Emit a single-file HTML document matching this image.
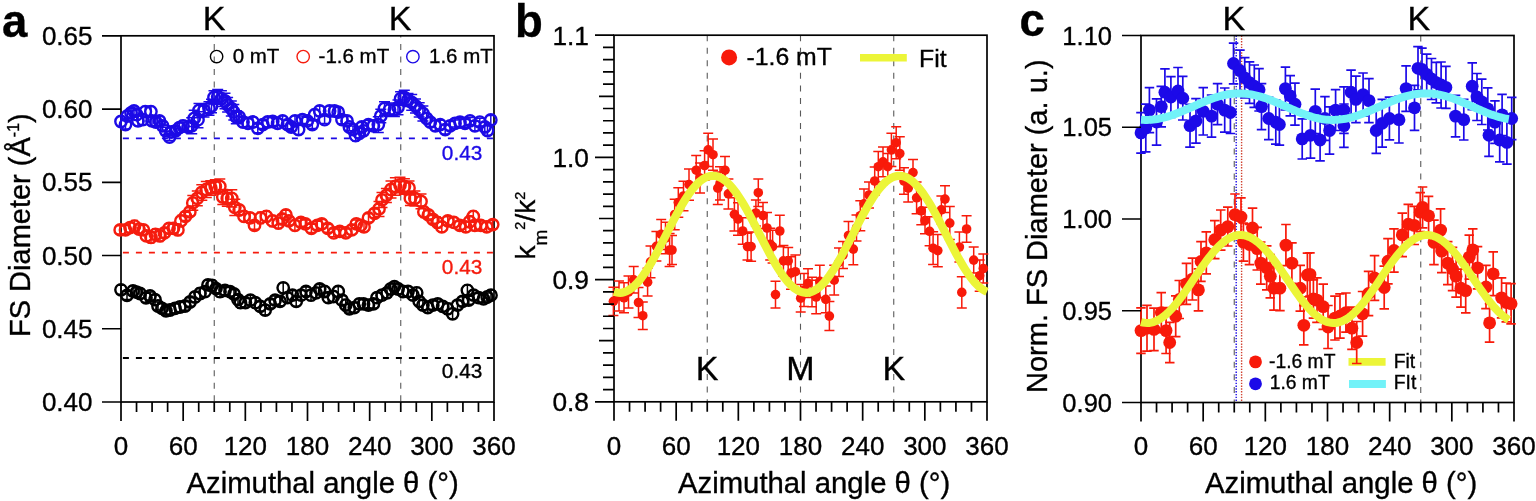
<!DOCTYPE html>
<html><head><meta charset="utf-8"><title>Figure</title>
<style>
html,body{margin:0;padding:0;background:#fff;}
body{width:1536px;height:501px;overflow:hidden;}
svg{display:block;}
text{font-family:"Liberation Sans", Arial, Helvetica, sans-serif;}
</style></head>
<body>
<svg width="1536" height="501" viewBox="0 0 1536 501">
<rect width="1536" height="501" fill="#fff"/>
<line x1="214.25" y1="35.8" x2="214.25" y2="402.0" stroke="#5a5a5a" stroke-width="1.1" stroke-dasharray="6 6.55" stroke-dashoffset="4.4"/>
<line x1="400.75" y1="35.8" x2="400.75" y2="402.0" stroke="#5a5a5a" stroke-width="1.1" stroke-dasharray="6 6.55" stroke-dashoffset="4.4"/>
<line x1="121.00" y1="138.40" x2="494.00" y2="138.40" stroke="#1c0ae6" stroke-width="1.8" stroke-dasharray="6 7" stroke-dashoffset="11.1"/>
<line x1="121.00" y1="252.60" x2="494.00" y2="252.60" stroke="#f51c0e" stroke-width="1.8" stroke-dasharray="6 7" stroke-dashoffset="11.1"/>
<line x1="121.00" y1="358.00" x2="494.00" y2="358.00" stroke="#000" stroke-width="1.8" stroke-dasharray="6 7" stroke-dashoffset="11.1"/>
<rect x="121.0" y="35.8" width="373.0" height="366.2" fill="none" stroke="#000" stroke-width="1.7"/>
<path d="M121.0,285.3V294.3M117.5,285.3h7M117.5,294.3h7M127.0,291.2V299.6M123.5,291.2h7M123.5,299.6h7M133.0,286.0V296.0M129.5,286.0h7M129.5,296.0h7M136.5,288.1V296.4M133.0,288.1h7M133.0,296.4h7M140.0,288.7V298.3M136.5,288.7h7M136.5,298.3h7M146.0,293.3V302.3M142.5,293.3h7M142.5,302.3h7M150.0,291.9V300.1M146.5,291.9h7M146.5,300.1h7M155.0,294.9V304.5M151.5,294.9h7M151.5,304.5h7M158.0,301.9V310.1M154.5,301.9h7M154.5,310.1h7M162.0,303.7V313.1M158.5,303.7h7M158.5,313.1h7M166.0,306.7V314.9M162.5,306.7h7M162.5,314.9h7M170.0,305.9V314.1M166.5,305.9h7M166.5,314.1h7M175.0,303.8V313.0M171.5,303.8h7M171.5,313.0h7M180.0,301.8V312.2M176.5,301.8h7M176.5,312.2h7M185.0,301.8V310.2M181.5,301.8h7M181.5,310.2h7M190.0,297.7V306.3M186.5,297.7h7M186.5,306.3h7M195.0,292.1V301.9M191.5,292.1h7M191.5,301.9h7M200.0,288.1V298.9M196.5,288.1h7M196.5,298.9h7M205.0,286.8V296.6M201.5,286.8h7M201.5,296.6h7M208.0,280.3V289.5M204.5,280.3h7M204.5,289.5h7M212.0,280.0V291.0M208.5,280.0h7M208.5,291.0h7M216.0,284.5V292.7M212.5,284.5h7M212.5,292.7h7M220.0,286.4V297.0M216.5,286.4h7M216.5,297.0h7M225.0,286.0V294.8M221.5,286.0h7M221.5,294.8h7M230.0,287.5V295.9M226.5,287.5h7M226.5,295.9h7M234.0,289.8V298.2M230.5,289.8h7M230.5,298.2h7M238.0,295.2V304.2M234.5,295.2h7M234.5,304.2h7M240.5,297.5V307.9M237.0,297.5h7M237.0,307.9h7M245.4,298.4V307.0M241.9,298.4h7M241.9,307.0h7M250.4,295.3V305.1M246.9,295.3h7M246.9,305.1h7M255.3,297.7V307.7M251.8,297.7h7M251.8,307.7h7M260.3,301.8V311.0M256.8,301.8h7M256.8,311.0h7M265.2,305.3V314.9M261.7,305.3h7M261.7,314.9h7M270.2,299.8V308.0M266.7,299.8h7M266.7,308.0h7M275.1,296.1V304.3M271.6,296.1h7M271.6,304.3h7M280.0,297.1V305.7M276.5,297.1h7M276.5,305.7h7M283.2,282.8V292.8M279.7,282.8h7M279.7,292.8h7M287.5,293.1V302.3M284.0,293.1h7M284.0,302.3h7M292.5,290.7V299.7M289.0,290.7h7M289.0,299.7h7M296.2,296.5V306.3M292.7,296.5h7M292.7,306.3h7M301.1,290.5V299.9M297.6,290.5h7M297.6,299.9h7M306.0,287.1V295.9M302.5,287.1h7M302.5,295.9h7M311.0,290.0V300.4M307.5,290.0h7M307.5,300.4h7M316.0,287.8V297.8M312.5,287.8h7M312.5,297.8h7M319.7,284.6V293.4M316.2,284.6h7M316.2,293.4h7M324.6,286.6V296.4M321.1,286.6h7M321.1,296.4h7M328.3,292.9V302.5M324.8,292.9h7M324.8,302.5h7M333.3,291.2V301.8M329.8,291.2h7M329.8,301.8h7M338.2,286.4V296.6M334.7,286.4h7M334.7,296.6h7M342.0,295.8V304.6M338.5,295.8h7M338.5,304.6h7M345.7,299.6V310.6M342.2,299.6h7M342.2,310.6h7M349.4,304.6V313.0M345.9,304.6h7M345.9,313.0h7M354.3,303.0V312.2M350.8,303.0h7M350.8,312.2h7M359.3,298.8V309.0M355.8,298.8h7M355.8,309.0h7M363.5,299.7V308.1M360.0,299.7h7M360.0,308.1h7M368.4,300.4V309.8M364.9,300.4h7M364.9,309.8h7M373.4,299.8V308.0M369.9,299.8h7M369.9,308.0h7M377.0,292.7V302.7M373.5,292.7h7M373.5,302.7h7M382.0,290.1V300.3M378.5,290.1h7M378.5,300.3h7M387.0,287.9V297.7M383.5,287.9h7M383.5,297.7h7M390.7,283.7V294.3M387.2,283.7h7M387.2,294.3h7M394.4,282.1V291.1M390.9,282.1h7M390.9,291.1h7M398.1,284.0V294.0M394.6,284.0h7M394.6,294.0h7M403.0,286.6V296.4M399.5,286.6h7M399.5,296.4h7M408.0,286.6V296.4M404.5,286.6h7M404.5,296.4h7M413.0,290.5V299.9M409.5,290.5h7M409.5,299.9h7M416.7,287.5V298.1M413.2,287.5h7M413.2,298.1h7M419.2,296.0V306.8M415.7,296.0h7M415.7,306.8h7M422.9,300.4V309.8M419.4,300.4h7M419.4,309.8h7M427.8,302.6V312.6M424.3,302.6h7M424.3,312.6h7M432.8,301.0V309.2M429.3,301.0h7M429.3,309.2h7M437.7,298.8V309.0M434.2,298.8h7M434.2,309.0h7M442.7,301.4V311.4M439.2,301.4h7M439.2,311.4h7M447.6,303.3V314.3M444.1,303.3h7M444.1,314.3h7M452.6,308.6V319.0M449.1,308.6h7M449.1,319.0h7M457.5,300.7V309.5M454.0,300.7h7M454.0,309.5h7M462.5,296.8V306.0M459.0,296.8h7M459.0,306.0h7M467.4,285.3V295.3M463.9,285.3h7M463.9,295.3h7M468.7,296.2V304.2M465.2,296.2h7M465.2,304.2h7M473.6,290.5V299.9M470.1,290.5h7M470.1,299.9h7M478.6,293.4V302.0M475.1,293.4h7M475.1,302.0h7M483.5,294.7V303.1M480.0,294.7h7M480.0,303.1h7M487.2,293.0V301.1M483.8,293.0h7M483.8,301.1h7M491.0,290.0V300.4M487.5,290.0h7M487.5,300.4h7" stroke="#000" stroke-width="1.5" fill="none"/>
<g fill="none" stroke="#000" stroke-width="2.4"><circle cx="121.0" cy="289.8" r="5.7"/><circle cx="127.0" cy="295.4" r="5.7"/><circle cx="133.0" cy="291.0" r="5.7"/><circle cx="136.5" cy="292.2" r="5.7"/><circle cx="140.0" cy="293.5" r="5.7"/><circle cx="146.0" cy="297.8" r="5.7"/><circle cx="150.0" cy="296.0" r="5.7"/><circle cx="155.0" cy="299.7" r="5.7"/><circle cx="158.0" cy="306.0" r="5.7"/><circle cx="162.0" cy="308.4" r="5.7"/><circle cx="166.0" cy="310.8" r="5.7"/><circle cx="170.0" cy="310.0" r="5.7"/><circle cx="175.0" cy="308.4" r="5.7"/><circle cx="180.0" cy="307.0" r="5.7"/><circle cx="185.0" cy="306.0" r="5.7"/><circle cx="190.0" cy="302.0" r="5.7"/><circle cx="195.0" cy="297.0" r="5.7"/><circle cx="200.0" cy="293.5" r="5.7"/><circle cx="205.0" cy="291.7" r="5.7"/><circle cx="208.0" cy="284.9" r="5.7"/><circle cx="212.0" cy="285.5" r="5.7"/><circle cx="216.0" cy="288.6" r="5.7"/><circle cx="220.0" cy="291.7" r="5.7"/><circle cx="225.0" cy="290.4" r="5.7"/><circle cx="230.0" cy="291.7" r="5.7"/><circle cx="234.0" cy="294.0" r="5.7"/><circle cx="238.0" cy="299.7" r="5.7"/><circle cx="240.5" cy="302.7" r="5.7"/><circle cx="245.4" cy="302.7" r="5.7"/><circle cx="250.4" cy="300.2" r="5.7"/><circle cx="255.3" cy="302.7" r="5.7"/><circle cx="260.3" cy="306.4" r="5.7"/><circle cx="265.2" cy="310.1" r="5.7"/><circle cx="270.2" cy="303.9" r="5.7"/><circle cx="275.1" cy="300.2" r="5.7"/><circle cx="280.0" cy="301.4" r="5.7"/><circle cx="283.2" cy="287.8" r="5.7"/><circle cx="287.5" cy="297.7" r="5.7"/><circle cx="292.5" cy="295.2" r="5.7"/><circle cx="296.2" cy="301.4" r="5.7"/><circle cx="301.1" cy="295.2" r="5.7"/><circle cx="306.0" cy="291.5" r="5.7"/><circle cx="311.0" cy="295.2" r="5.7"/><circle cx="316.0" cy="292.8" r="5.7"/><circle cx="319.7" cy="289.0" r="5.7"/><circle cx="324.6" cy="291.5" r="5.7"/><circle cx="328.3" cy="297.7" r="5.7"/><circle cx="333.3" cy="296.5" r="5.7"/><circle cx="338.2" cy="291.5" r="5.7"/><circle cx="342.0" cy="300.2" r="5.7"/><circle cx="345.7" cy="305.1" r="5.7"/><circle cx="349.4" cy="308.8" r="5.7"/><circle cx="354.3" cy="307.6" r="5.7"/><circle cx="359.3" cy="303.9" r="5.7"/><circle cx="363.5" cy="303.9" r="5.7"/><circle cx="368.4" cy="305.1" r="5.7"/><circle cx="373.4" cy="303.9" r="5.7"/><circle cx="377.0" cy="297.7" r="5.7"/><circle cx="382.0" cy="295.2" r="5.7"/><circle cx="387.0" cy="292.8" r="5.7"/><circle cx="390.7" cy="289.0" r="5.7"/><circle cx="394.4" cy="286.6" r="5.7"/><circle cx="398.1" cy="289.0" r="5.7"/><circle cx="403.0" cy="291.5" r="5.7"/><circle cx="408.0" cy="291.5" r="5.7"/><circle cx="413.0" cy="295.2" r="5.7"/><circle cx="416.7" cy="292.8" r="5.7"/><circle cx="419.2" cy="301.4" r="5.7"/><circle cx="422.9" cy="305.1" r="5.7"/><circle cx="427.8" cy="307.6" r="5.7"/><circle cx="432.8" cy="305.1" r="5.7"/><circle cx="437.7" cy="303.9" r="5.7"/><circle cx="442.7" cy="306.4" r="5.7"/><circle cx="447.6" cy="308.8" r="5.7"/><circle cx="452.6" cy="313.8" r="5.7"/><circle cx="457.5" cy="305.1" r="5.7"/><circle cx="462.5" cy="301.4" r="5.7"/><circle cx="467.4" cy="290.3" r="5.7"/><circle cx="468.7" cy="300.2" r="5.7"/><circle cx="473.6" cy="295.2" r="5.7"/><circle cx="478.6" cy="297.7" r="5.7"/><circle cx="483.5" cy="298.9" r="5.7"/><circle cx="487.2" cy="297.0" r="5.7"/><circle cx="491.0" cy="295.2" r="5.7"/></g>
<path d="M120.2,225.8V234.0M116.7,225.8h7M116.7,234.0h7M125.5,225.6V234.2M122.0,225.6h7M122.0,234.2h7M130.0,223.0V232.2M126.5,223.0h7M126.5,232.2h7M134.5,220.6V231.6M131.0,220.6h7M131.0,231.6h7M139.0,225.1V233.1M135.5,225.1h7M135.5,233.1h7M143.4,225.2V234.6M139.9,225.2h7M139.9,234.6h7M146.4,231.0V240.8M142.9,231.0h7M142.9,240.8h7M151.0,231.8V243.0M147.5,231.8h7M147.5,243.0h7M155.4,229.0V239.8M151.9,229.0h7M151.9,239.8h7M160.0,230.4V241.4M156.5,230.4h7M156.5,241.4h7M164.4,228.5V237.3M160.9,228.5h7M160.9,237.3h7M169.0,223.8V233.0M165.5,223.8h7M165.5,233.0h7M173.4,223.9V232.9M169.9,223.9h7M169.9,232.9h7M177.9,224.3V235.5M174.4,224.3h7M174.4,235.5h7M180.9,215.2V226.6M177.4,215.2h7M177.4,226.6h7M185.4,212.3V220.5M181.9,212.3h7M181.9,220.5h7M189.8,207.7V216.1M186.3,207.7h7M186.3,216.1h7M192.8,195.6V210.2M187.3,195.6h11M187.3,210.2h11M197.3,191.1V205.7M191.8,191.1h11M191.8,205.7h11M201.8,184.7V200.3M196.3,184.7h11M196.3,200.3h11M206.3,181.5V197.5M200.8,181.5h11M200.8,197.5h11M210.8,180.7V195.3M205.3,180.7h11M205.3,195.3h11M215.3,179.7V193.3M209.8,179.7h11M209.8,193.3h11M219.8,178.9V194.1M214.3,178.9h11M214.3,194.1h11M222.8,189.5V204.5M217.3,189.5h11M217.3,204.5h11M227.3,190.5V206.3M221.8,190.5h11M221.8,206.3h11M231.8,189.7V207.1M226.3,189.7h11M226.3,207.1h11M234.8,199.2V215.6M229.3,199.2h11M229.3,215.6h11M239.2,205.2V214.8M235.7,205.2h7M235.7,214.8h7M244.0,211.4V221.4M240.5,211.4h7M240.5,221.4h7M250.0,212.7V223.1M246.5,212.7h7M246.5,223.1h7M254.5,221.5V229.3M251.0,221.5h7M251.0,229.3h7M260.5,212.3V223.5M257.0,212.3h7M257.0,223.5h7M266.4,211.0V221.8M262.9,211.0h7M262.9,221.8h7M272.4,215.4V226.4M268.9,215.4h7M268.9,226.4h7M278.4,217.7V228.5M274.9,217.7h7M274.9,228.5h7M282.1,214.4V223.6M278.6,214.4h7M278.6,223.6h7M285.9,210.3V219.5M282.4,210.3h7M282.4,219.5h7M288.9,216.9V224.9M285.4,216.9h7M285.4,224.9h7M294.9,220.3V230.5M291.4,220.3h7M291.4,230.5h7M300.9,218.5V226.3M297.4,218.5h7M297.4,226.3h7M305.4,220.0V227.8M301.9,220.0h7M301.9,227.8h7M311.4,224.2V232.6M307.9,224.2h7M307.9,232.6h7M317.3,221.3V229.5M313.8,221.3h7M313.8,229.5h7M321.8,219.4V228.4M318.3,219.4h7M318.3,228.4h7M327.8,224.5V232.3M324.3,224.5h7M324.3,232.3h7M333.8,229.1V236.7M330.3,229.1h7M330.3,236.7h7M339.8,227.3V235.5M336.3,227.3h7M336.3,235.5h7M345.8,228.9V236.9M342.3,228.9h7M342.3,236.9h7M351.8,225.4V234.4M348.3,225.4h7M348.3,234.4h7M356.3,220.0V227.8M352.8,220.0h7M352.8,227.8h7M360.8,219.9V230.9M357.3,219.9h7M357.3,230.9h7M364.0,221.9V231.9M360.5,221.9h7M360.5,231.9h7M368.5,213.8V222.0M365.0,213.8h7M365.0,222.0h7M374.5,209.1V217.7M371.0,209.1h7M371.0,217.7h7M379.0,201.4V216.4M373.5,201.4h11M373.5,216.4h11M382.0,192.4V207.4M376.5,192.4h11M376.5,207.4h11M386.4,188.4V202.4M380.9,188.4h11M380.9,202.4h11M391.0,181.0V198.0M385.5,181.0h11M385.5,198.0h11M395.4,177.7V195.3M389.9,177.7h11M389.9,195.3h11M400.0,177.3V192.7M394.5,177.3h11M394.5,192.7h11M404.4,178.7V194.3M398.9,178.7h11M398.9,194.3h11M409.0,181.0V195.0M403.5,181.0h11M403.5,195.0h11M410.4,191.4V205.4M404.9,191.4h11M404.9,205.4h11M414.9,190.9V205.9M409.4,190.9h11M409.4,205.9h11M421.0,194.1V208.7M415.5,194.1h11M415.5,208.7h11M423.9,206.4V217.4M420.4,206.4h7M420.4,217.4h7M428.4,210.8V219.0M424.9,210.8h7M424.9,219.0h7M432.9,215.6V223.2M429.4,215.6h7M429.4,223.2h7M437.3,216.7V228.1M433.8,216.7h7M433.8,228.1h7M441.8,222.0V231.8M438.3,222.0h7M438.3,231.8h7M447.8,216.8V225.0M444.3,216.8h7M444.3,225.0h7M453.8,217.5V227.3M450.3,217.5h7M450.3,227.3h7M459.8,221.5V229.3M456.3,221.5h7M456.3,229.3h7M465.8,222.0V231.8M462.3,222.0h7M462.3,231.8h7M469.6,215.9V227.4M466.1,215.9h7M466.1,227.4h7M473.3,210.9V221.9M469.8,210.9h7M469.8,221.9h7M474.8,220.2V230.6M471.3,220.2h7M471.3,230.6h7M480.8,221.1V229.7M477.3,221.1h7M477.3,229.7h7M486.7,222.4V231.4M483.2,222.4h7M483.2,231.4h7M492.7,220.5V228.7M489.2,220.5h7M489.2,228.7h7" stroke="#f51c0e" stroke-width="1.5" fill="none"/>
<g fill="none" stroke="#f51c0e" stroke-width="2.4"><circle cx="120.2" cy="229.9" r="5.7"/><circle cx="125.5" cy="229.9" r="5.7"/><circle cx="130.0" cy="227.6" r="5.7"/><circle cx="134.5" cy="226.1" r="5.7"/><circle cx="139.0" cy="229.1" r="5.7"/><circle cx="143.4" cy="229.9" r="5.7"/><circle cx="146.4" cy="235.9" r="5.7"/><circle cx="151.0" cy="237.4" r="5.7"/><circle cx="155.4" cy="234.4" r="5.7"/><circle cx="160.0" cy="235.9" r="5.7"/><circle cx="164.4" cy="232.9" r="5.7"/><circle cx="169.0" cy="228.4" r="5.7"/><circle cx="173.4" cy="228.4" r="5.7"/><circle cx="177.9" cy="229.9" r="5.7"/><circle cx="180.9" cy="220.9" r="5.7"/><circle cx="185.4" cy="216.4" r="5.7"/><circle cx="189.8" cy="211.9" r="5.7"/><circle cx="192.8" cy="202.9" r="5.7"/><circle cx="197.3" cy="198.4" r="5.7"/><circle cx="201.8" cy="192.5" r="5.7"/><circle cx="206.3" cy="189.5" r="5.7"/><circle cx="210.8" cy="188.0" r="5.7"/><circle cx="215.3" cy="186.5" r="5.7"/><circle cx="219.8" cy="186.5" r="5.7"/><circle cx="222.8" cy="197.0" r="5.7"/><circle cx="227.3" cy="198.4" r="5.7"/><circle cx="231.8" cy="198.4" r="5.7"/><circle cx="234.8" cy="207.4" r="5.7"/><circle cx="239.2" cy="210.0" r="5.7"/><circle cx="244.0" cy="216.4" r="5.7"/><circle cx="250.0" cy="217.9" r="5.7"/><circle cx="254.5" cy="225.4" r="5.7"/><circle cx="260.5" cy="217.9" r="5.7"/><circle cx="266.4" cy="216.4" r="5.7"/><circle cx="272.4" cy="220.9" r="5.7"/><circle cx="278.4" cy="223.1" r="5.7"/><circle cx="282.1" cy="219.0" r="5.7"/><circle cx="285.9" cy="214.9" r="5.7"/><circle cx="288.9" cy="220.9" r="5.7"/><circle cx="294.9" cy="225.4" r="5.7"/><circle cx="300.9" cy="222.4" r="5.7"/><circle cx="305.4" cy="223.9" r="5.7"/><circle cx="311.4" cy="228.4" r="5.7"/><circle cx="317.3" cy="225.4" r="5.7"/><circle cx="321.8" cy="223.9" r="5.7"/><circle cx="327.8" cy="228.4" r="5.7"/><circle cx="333.8" cy="232.9" r="5.7"/><circle cx="339.8" cy="231.4" r="5.7"/><circle cx="345.8" cy="232.9" r="5.7"/><circle cx="351.8" cy="229.9" r="5.7"/><circle cx="356.3" cy="223.9" r="5.7"/><circle cx="360.8" cy="225.4" r="5.7"/><circle cx="364.0" cy="226.9" r="5.7"/><circle cx="368.5" cy="217.9" r="5.7"/><circle cx="374.5" cy="213.4" r="5.7"/><circle cx="379.0" cy="208.9" r="5.7"/><circle cx="382.0" cy="199.9" r="5.7"/><circle cx="386.4" cy="195.4" r="5.7"/><circle cx="391.0" cy="189.5" r="5.7"/><circle cx="395.4" cy="186.5" r="5.7"/><circle cx="400.0" cy="185.0" r="5.7"/><circle cx="404.4" cy="186.5" r="5.7"/><circle cx="409.0" cy="188.0" r="5.7"/><circle cx="410.4" cy="198.4" r="5.7"/><circle cx="414.9" cy="198.4" r="5.7"/><circle cx="421.0" cy="201.4" r="5.7"/><circle cx="423.9" cy="211.9" r="5.7"/><circle cx="428.4" cy="214.9" r="5.7"/><circle cx="432.9" cy="219.4" r="5.7"/><circle cx="437.3" cy="222.4" r="5.7"/><circle cx="441.8" cy="226.9" r="5.7"/><circle cx="447.8" cy="220.9" r="5.7"/><circle cx="453.8" cy="222.4" r="5.7"/><circle cx="459.8" cy="225.4" r="5.7"/><circle cx="465.8" cy="226.9" r="5.7"/><circle cx="469.6" cy="221.7" r="5.7"/><circle cx="473.3" cy="216.4" r="5.7"/><circle cx="474.8" cy="225.4" r="5.7"/><circle cx="480.8" cy="225.4" r="5.7"/><circle cx="486.7" cy="226.9" r="5.7"/><circle cx="492.7" cy="224.6" r="5.7"/></g>
<path d="M121.0,116.6V126.4M117.5,116.6h7M117.5,126.4h7M125.5,120.1V129.1M122.0,120.1h7M122.0,129.1h7M127.4,111.1V120.9M123.9,111.1h7M123.9,120.9h7M131.0,108.7V116.9M127.5,108.7h7M127.5,116.9h7M134.0,107.1V114.9M130.5,107.1h7M130.5,114.9h7M136.7,109.7V119.7M133.2,109.7h7M133.2,119.7h7M138.0,115.6V126.2M134.5,115.6h7M134.5,126.2h7M142.8,114.7V124.7M139.3,114.7h7M139.3,124.7h7M145.3,106.6V116.6M141.8,106.6h7M141.8,116.6h7M150.9,106.6V116.6M147.4,106.6h7M147.4,116.6h7M152.0,116.1V125.7M148.5,116.1h7M148.5,125.7h7M155.8,118.1V125.9M152.3,118.1h7M152.3,125.9h7M159.5,116.5V125.3M156.0,116.5h7M156.0,125.3h7M162.6,121.7V129.9M159.1,121.7h7M159.1,129.9h7M165.7,127.2V134.4M162.2,127.2h7M162.2,134.4h7M169.5,133.4V140.6M166.0,133.4h7M166.0,140.6h7M171.3,128.0V136.0M167.8,128.0h7M167.8,136.0h7M175.6,126.8V134.8M172.1,126.8h7M172.1,134.8h7M179.4,123.0V132.4M175.9,123.0h7M175.9,132.4h7M183.0,120.6V131.0M179.5,120.6h7M179.5,131.0h7M188.0,122.7V131.3M184.5,122.7h7M184.5,131.3h7M191.7,117.8V133.8M186.2,117.8h11M186.2,133.8h11M194.2,110.3V126.5M188.7,110.3h11M188.7,126.5h11M198.0,111.7V127.7M192.5,111.7h11M192.5,127.7h11M199.0,103.4V117.4M193.5,103.4h11M193.5,117.4h11M204.0,103.7V117.1M198.5,103.7h11M198.5,117.1h11M209.0,101.8V115.2M203.5,101.8h11M203.5,115.2h11M211.5,99.3V112.7M206.0,99.3h11M206.0,112.7h11M214.0,90.7V104.1M208.5,90.7h11M208.5,104.1h11M217.7,89.4V104.2M212.2,89.4h11M212.2,104.2h11M221.4,90.7V106.5M215.9,90.7h11M215.9,106.5h11M225.0,93.2V108.8M219.5,93.2h11M219.5,108.8h11M227.6,97.6V112.0M222.1,97.6h11M222.1,112.0h11M231.3,101.0V116.0M225.8,101.0h11M225.8,116.0h11M233.8,104.5V119.9M228.3,104.5h11M228.3,119.9h11M236.3,110.7V123.7M230.8,110.7h11M230.8,123.7h11M239.2,112.3V121.7M235.7,112.3h7M235.7,121.7h7M243.0,116.9V127.1M239.5,116.9h7M239.5,127.1h7M248.0,118.5V128.3M244.5,118.5h7M244.5,128.3h7M252.9,117.1V126.9M249.4,117.1h7M249.4,126.9h7M257.8,123.9V132.7M254.3,123.9h7M254.3,132.7h7M262.8,120.8V128.4M259.3,120.8h7M259.3,128.4h7M267.7,117.1V126.9M264.2,117.1h7M264.2,126.9h7M272.7,117.4V125.6M269.2,117.4h7M269.2,125.6h7M277.6,118.5V128.3M274.1,118.5h7M274.1,128.3h7M282.6,115.7V126.1M279.1,115.7h7M279.1,126.1h7M287.5,120.4V128.8M284.0,120.4h7M284.0,128.8h7M291.2,122.8V131.2M287.7,122.8h7M287.7,131.2h7M295.0,115.7V126.1M291.5,115.7h7M291.5,126.1h7M298.6,124.8V134.4M295.1,124.8h7M295.1,134.4h7M302.4,115.9V123.5M298.9,115.9h7M298.9,123.5h7M307.3,117.2V124.6M303.8,117.2h7M303.8,124.6h7M312.3,120.8V128.4M308.8,120.8h7M308.8,128.4h7M314.7,109.6V119.8M311.2,109.6h7M311.2,119.8h7M319.7,106.0V116.0M316.2,106.0h7M316.2,116.0h7M324.6,115.9V123.5M321.1,115.9h7M321.1,123.5h7M329.6,106.0V116.0M326.1,106.0h7M326.1,116.0h7M334.5,105.7V116.3M331.0,105.7h7M331.0,116.3h7M338.2,107.5V116.9M334.7,107.5h7M334.7,116.9h7M342.0,115.6V123.8M338.5,115.6h7M338.5,123.8h7M347.0,116.4V125.4M343.5,116.4h7M343.5,125.4h7M349.4,123.3V130.7M345.9,123.3h7M345.9,130.7h7M353.0,126.1V133.1M349.5,126.1h7M349.5,133.1h7M355.6,130.5V140.9M352.1,130.5h7M352.1,140.9h7M359.3,128.6V138.0M355.8,128.6h7M355.8,138.0h7M361.8,122.6V131.4M358.3,122.6h7M358.3,131.4h7M363.5,125.6V136.0M360.0,125.6h7M360.0,136.0h7M368.4,120.3V128.9M364.9,120.3h7M364.9,128.9h7M373.4,120.7V130.9M369.9,120.7h7M369.9,130.9h7M378.3,116.8V132.4M372.8,116.8h11M372.8,132.4h11M380.8,109.3V122.7M375.3,109.3h11M375.3,122.7h11M384.5,101.7V115.3M379.0,101.7h11M379.0,115.3h11M389.5,103.0V116.6M384.0,103.0h11M384.0,116.6h11M394.4,103.1V116.5M388.9,103.1h11M388.9,116.5h11M398.0,99.9V114.7M392.5,99.9h11M392.5,114.7h11M400.6,91.8V105.4M395.1,91.8h11M395.1,105.4h11M404.3,90.3V104.5M398.8,90.3h11M398.8,104.5h11M408.0,93.4V106.4M402.5,93.4h11M402.5,106.4h11M411.7,94.4V110.2M406.2,94.4h11M406.2,110.2h11M415.5,99.1V112.9M410.0,99.1h11M410.0,112.9h11M419.2,102.7V116.9M413.7,102.7h11M413.7,116.9h11M422.9,106.1V120.9M417.4,106.1h11M417.4,120.9h11M426.6,113.3V123.5M423.1,113.3h7M423.1,123.5h7M430.3,117.8V126.4M426.8,117.8h7M426.8,126.4h7M435.3,120.6V131.0M431.8,120.6h7M431.8,131.0h7M440.2,120.2V129.0M436.7,120.2h7M436.7,129.0h7M445.2,125.1V134.1M441.7,125.1h7M441.7,134.1h7M450.1,121.4V130.2M446.6,121.4h7M446.6,130.2h7M455.0,119.9V126.9M451.5,119.9h7M451.5,126.9h7M460.0,117.8V126.4M456.5,117.8h7M456.5,126.4h7M465.0,119.6V127.2M461.5,119.6h7M461.5,127.2h7M470.0,117.4V124.4M466.5,117.4h7M466.5,124.4h7M474.9,120.9V130.7M471.4,120.9h7M471.4,130.7h7M479.8,118.3V125.9M476.3,118.3h7M476.3,125.9h7M484.8,122.6V131.4M481.3,122.6h7M481.3,131.4h7M487.5,125.7V135.3M484.0,125.7h7M484.0,135.3h7M490.8,115.5V124.5M487.3,115.5h7M487.3,124.5h7" stroke="#1c0ae6" stroke-width="1.5" fill="none"/>
<g fill="none" stroke="#1c0ae6" stroke-width="2.4"><circle cx="121.0" cy="121.5" r="5.7"/><circle cx="125.5" cy="124.6" r="5.7"/><circle cx="127.4" cy="116.0" r="5.7"/><circle cx="131.0" cy="112.8" r="5.7"/><circle cx="134.0" cy="111.0" r="5.7"/><circle cx="136.7" cy="114.7" r="5.7"/><circle cx="138.0" cy="120.9" r="5.7"/><circle cx="142.8" cy="119.7" r="5.7"/><circle cx="145.3" cy="111.6" r="5.7"/><circle cx="150.9" cy="111.6" r="5.7"/><circle cx="152.0" cy="120.9" r="5.7"/><circle cx="155.8" cy="122.0" r="5.7"/><circle cx="159.5" cy="120.9" r="5.7"/><circle cx="162.6" cy="125.8" r="5.7"/><circle cx="165.7" cy="130.8" r="5.7"/><circle cx="169.5" cy="137.0" r="5.7"/><circle cx="171.3" cy="132.0" r="5.7"/><circle cx="175.6" cy="130.8" r="5.7"/><circle cx="179.4" cy="127.7" r="5.7"/><circle cx="183.0" cy="125.8" r="5.7"/><circle cx="188.0" cy="127.0" r="5.7"/><circle cx="191.7" cy="125.8" r="5.7"/><circle cx="194.2" cy="118.4" r="5.7"/><circle cx="198.0" cy="119.7" r="5.7"/><circle cx="199.0" cy="110.4" r="5.7"/><circle cx="204.0" cy="110.4" r="5.7"/><circle cx="209.0" cy="108.5" r="5.7"/><circle cx="211.5" cy="106.0" r="5.7"/><circle cx="214.0" cy="97.4" r="5.7"/><circle cx="217.7" cy="96.8" r="5.7"/><circle cx="221.4" cy="98.6" r="5.7"/><circle cx="225.0" cy="101.0" r="5.7"/><circle cx="227.6" cy="104.8" r="5.7"/><circle cx="231.3" cy="108.5" r="5.7"/><circle cx="233.8" cy="112.2" r="5.7"/><circle cx="236.3" cy="117.2" r="5.7"/><circle cx="239.2" cy="117.0" r="5.7"/><circle cx="243.0" cy="122.0" r="5.7"/><circle cx="248.0" cy="123.4" r="5.7"/><circle cx="252.9" cy="122.0" r="5.7"/><circle cx="257.8" cy="128.3" r="5.7"/><circle cx="262.8" cy="124.6" r="5.7"/><circle cx="267.7" cy="122.0" r="5.7"/><circle cx="272.7" cy="121.5" r="5.7"/><circle cx="277.6" cy="123.4" r="5.7"/><circle cx="282.6" cy="120.9" r="5.7"/><circle cx="287.5" cy="124.6" r="5.7"/><circle cx="291.2" cy="127.0" r="5.7"/><circle cx="295.0" cy="120.9" r="5.7"/><circle cx="298.6" cy="129.6" r="5.7"/><circle cx="302.4" cy="119.7" r="5.7"/><circle cx="307.3" cy="120.9" r="5.7"/><circle cx="312.3" cy="124.6" r="5.7"/><circle cx="314.7" cy="114.7" r="5.7"/><circle cx="319.7" cy="111.0" r="5.7"/><circle cx="324.6" cy="119.7" r="5.7"/><circle cx="329.6" cy="111.0" r="5.7"/><circle cx="334.5" cy="111.0" r="5.7"/><circle cx="338.2" cy="112.2" r="5.7"/><circle cx="342.0" cy="119.7" r="5.7"/><circle cx="347.0" cy="120.9" r="5.7"/><circle cx="349.4" cy="127.0" r="5.7"/><circle cx="353.0" cy="129.6" r="5.7"/><circle cx="355.6" cy="135.7" r="5.7"/><circle cx="359.3" cy="133.3" r="5.7"/><circle cx="361.8" cy="127.0" r="5.7"/><circle cx="363.5" cy="130.8" r="5.7"/><circle cx="368.4" cy="124.6" r="5.7"/><circle cx="373.4" cy="125.8" r="5.7"/><circle cx="378.3" cy="124.6" r="5.7"/><circle cx="380.8" cy="116.0" r="5.7"/><circle cx="384.5" cy="108.5" r="5.7"/><circle cx="389.5" cy="109.8" r="5.7"/><circle cx="394.4" cy="109.8" r="5.7"/><circle cx="398.0" cy="107.3" r="5.7"/><circle cx="400.6" cy="98.6" r="5.7"/><circle cx="404.3" cy="97.4" r="5.7"/><circle cx="408.0" cy="99.9" r="5.7"/><circle cx="411.7" cy="102.3" r="5.7"/><circle cx="415.5" cy="106.0" r="5.7"/><circle cx="419.2" cy="109.8" r="5.7"/><circle cx="422.9" cy="113.5" r="5.7"/><circle cx="426.6" cy="118.4" r="5.7"/><circle cx="430.3" cy="122.1" r="5.7"/><circle cx="435.3" cy="125.8" r="5.7"/><circle cx="440.2" cy="124.6" r="5.7"/><circle cx="445.2" cy="129.6" r="5.7"/><circle cx="450.1" cy="125.8" r="5.7"/><circle cx="455.0" cy="123.4" r="5.7"/><circle cx="460.0" cy="122.1" r="5.7"/><circle cx="465.0" cy="123.4" r="5.7"/><circle cx="470.0" cy="120.9" r="5.7"/><circle cx="474.9" cy="125.8" r="5.7"/><circle cx="479.8" cy="122.1" r="5.7"/><circle cx="484.8" cy="127.0" r="5.7"/><circle cx="487.5" cy="130.5" r="5.7"/><circle cx="490.8" cy="120.0" r="5.7"/></g>
<path d="M121.00,402.0v19M136.54,402.0v10M152.08,402.0v10M167.62,402.0v10M183.17,402.0v19M198.71,402.0v10M214.25,402.0v10M229.79,402.0v10M245.33,402.0v19M260.88,402.0v10M276.42,402.0v10M291.96,402.0v10M307.50,402.0v19M323.04,402.0v10M338.58,402.0v10M354.12,402.0v10M369.67,402.0v19M385.21,402.0v10M400.75,402.0v10M416.29,402.0v10M431.83,402.0v19M447.38,402.0v10M462.92,402.0v10M478.46,402.0v10M494.00,402.0v19" stroke="#000" stroke-width="1.7" fill="none"/>
<text stroke="#000" stroke-width="0.35" x="121.00" y="454.6" font-size="26" text-anchor="middle">0</text>
<text stroke="#000" stroke-width="0.35" x="183.17" y="454.6" font-size="26" text-anchor="middle">60</text>
<text stroke="#000" stroke-width="0.35" x="245.33" y="454.6" font-size="26" text-anchor="middle">120</text>
<text stroke="#000" stroke-width="0.35" x="307.50" y="454.6" font-size="26" text-anchor="middle">180</text>
<text stroke="#000" stroke-width="0.35" x="369.67" y="454.6" font-size="26" text-anchor="middle">240</text>
<text stroke="#000" stroke-width="0.35" x="431.83" y="454.6" font-size="26" text-anchor="middle">300</text>
<text stroke="#000" stroke-width="0.35" x="494.00" y="454.6" font-size="26" text-anchor="middle">360</text>
<text stroke="#000" stroke-width="0.35" x="92.5" y="411.20" font-size="26" text-anchor="end">0.40</text>
<text stroke="#000" stroke-width="0.35" x="92.5" y="337.96" font-size="26" text-anchor="end">0.45</text>
<text stroke="#000" stroke-width="0.35" x="92.5" y="264.72" font-size="26" text-anchor="end">0.50</text>
<text stroke="#000" stroke-width="0.35" x="92.5" y="191.48" font-size="26" text-anchor="end">0.55</text>
<text stroke="#000" stroke-width="0.35" x="92.5" y="118.24" font-size="26" text-anchor="end">0.60</text>
<text stroke="#000" stroke-width="0.35" x="92.5" y="45.00" font-size="26" text-anchor="end">0.65</text>
<path d="M121.0,402.00h-19M121.0,328.76h-19M121.0,255.52h-19M121.0,182.28h-19M121.0,109.04h-19M121.0,35.80h-19" stroke="#000" stroke-width="1.7"/>
<text stroke="#1c0ae6" stroke-width="0.35" x="482.3" y="160.4" font-size="20.8" text-anchor="end" fill="#1c0ae6">0.43</text>
<text stroke="#f51c0e" stroke-width="0.35" x="482.3" y="274.1" font-size="20.8" text-anchor="end" fill="#f51c0e">0.43</text>
<text stroke="#000" stroke-width="0.35" x="482.3" y="378.4" font-size="20.8" text-anchor="end" fill="#000">0.43</text>
<text stroke="#000" stroke-width="0.35" x="214.2" y="29.8" font-size="34" text-anchor="middle">K</text>
<text stroke="#000" stroke-width="0.35" x="400.1" y="29.8" font-size="34" text-anchor="middle">K</text>
<circle cx="216.6" cy="56.6" r="6.2" fill="none" stroke="#000" stroke-width="1.4"/>
<text stroke="#000" stroke-width="0.35" x="232.7" y="63" font-size="20.5">0 mT</text>
<circle cx="303.2" cy="56.6" r="6.2" fill="none" stroke="#f51c0e" stroke-width="1.4"/>
<text stroke="#000" stroke-width="0.35" x="318.6" y="63" font-size="20.5">-1.6 mT</text>
<circle cx="412.9" cy="56.7" r="6.2" fill="none" stroke="#1c0ae6" stroke-width="1.4"/>
<text stroke="#000" stroke-width="0.35" x="429" y="63" font-size="20.5">1.6 mT</text>
<text stroke="#000" stroke-width="0.35" x="186.5" y="492.8" font-size="29.3">Azimuthal angle θ (°)</text>
<text stroke="#000" stroke-width="0.35" transform="translate(29.5,337) rotate(-90)" font-size="29">FS Diameter (Å<tspan font-size="16" dy="-11">-1</tspan><tspan dy="11">)</tspan></text>
<text stroke="#000" stroke-width="0.35" x="2" y="36.6" font-size="45.5" font-weight="bold">a</text>
<line x1="707.25" y1="35.2" x2="707.25" y2="401.8" stroke="#5a5a5a" stroke-width="1.1" stroke-dasharray="6 6.55" stroke-dashoffset="0"/>
<line x1="800.50" y1="35.2" x2="800.50" y2="401.8" stroke="#5a5a5a" stroke-width="1.1" stroke-dasharray="6 6.55" stroke-dashoffset="0"/>
<line x1="893.75" y1="35.2" x2="893.75" y2="401.8" stroke="#5a5a5a" stroke-width="1.1" stroke-dasharray="6 6.55" stroke-dashoffset="0"/>
<rect x="614.0" y="35.2" width="373.0" height="366.6" fill="none" stroke="#000" stroke-width="1.7"/>
<path d="M613.4,287.2V315.4M608.4,287.2h10M608.4,315.4h10M619.0,281.1V310.9M614.0,281.1h10M614.0,310.9h10M624.0,282.8V312.8M619.0,282.8h10M619.0,312.8h10M628.5,276.1V307.9M623.5,276.1h10M623.5,307.9h10M633.7,266.6V293.0M628.7,266.6h10M628.7,293.0h10M638.5,287.5V317.5M633.5,287.5h10M633.5,317.5h10M642.8,301.9V329.5M637.8,301.9h10M637.8,329.5h10M647.6,268.3V296.1M642.6,268.3h10M642.6,296.1h10M650.5,246.0V277.8M645.5,246.0h10M645.5,277.8h10M656.4,231.5V261.1M651.4,231.5h10M651.4,261.1h10M661.2,219.4V249.4M656.2,219.4h10M656.2,249.4h10M665.5,222.2V253.8M660.5,222.2h10M660.5,253.8h10M669.6,233.6V266.4M664.6,233.6h10M664.6,266.4h10M672.0,235.4V264.6M667.0,235.4h10M667.0,264.6h10M674.7,199.2V229.8M669.7,199.2h10M669.7,229.8h10M678.3,187.7V217.3M673.3,187.7h10M673.3,217.3h10M683.5,181.2V210.8M678.5,181.2h10M678.5,210.8h10M689.0,169.0V200.2M684.0,169.0h10M684.0,200.2h10M696.2,155.6V184.8M691.2,155.6h10M691.2,184.8h10M700.0,163.1V192.9M695.0,163.1h10M695.0,192.9h10M704.6,150.8V180.2M699.6,150.8h10M699.6,180.2h10M708.2,133.3V166.5M703.2,133.3h10M703.2,166.5h10M713.0,139.1V170.3M708.0,139.1h10M708.0,170.3h10M717.8,171.9V204.5M712.8,171.9h10M712.8,204.5h10M720.0,166.8V200.0M715.0,166.8h10M715.0,200.0h10M725.0,156.4V184.0M720.0,156.4h10M720.0,184.0h10M728.4,178.9V208.9M723.4,178.9h10M723.4,208.9h10M734.4,197.7V230.9M729.4,197.7h10M729.4,230.9h10M738.0,202.8V235.2M733.0,202.8h10M733.0,235.2h10M742.7,217.7V244.3M737.7,217.7h10M737.7,244.3h10M747.5,233.3V259.9M742.5,233.3h10M742.5,259.9h10M751.1,232.0V261.2M746.1,232.0h10M746.1,261.2h10M755.9,199.9V226.1M750.9,199.9h10M750.9,226.1h10M758.3,178.9V206.5M753.3,178.9h10M753.3,206.5h10M763.0,202.4V228.6M758.0,202.4h10M758.0,228.6h10M767.0,212.5V243.5M762.0,212.5h10M762.0,243.5h10M770.2,228.3V260.1M765.2,228.3h10M765.2,260.1h10M772.6,230.2V263.0M767.6,230.2h10M767.6,263.0h10M775.5,281.2V308.0M770.5,281.2h10M770.5,308.0h10M779.8,215.3V246.7M774.8,215.3h10M774.8,246.7h10M783.4,245.5V276.3M778.4,245.5h10M778.4,276.3h10M788.2,247.5V274.3M783.2,247.5h10M783.2,274.3h10M791.0,256.7V289.3M786.0,256.7h10M786.0,289.3h10M795.4,255.0V288.4M790.4,255.0h10M790.4,288.4h10M800.7,284.5V311.9M795.7,284.5h10M795.7,311.9h10M804.0,273.4V306.6M799.0,273.4h10M799.0,306.6h10M808.0,268.8V297.6M803.0,268.8h10M803.0,297.6h10M812.0,277.3V306.7M807.0,277.3h10M807.0,306.7h10M816.2,280.2V313.8M811.2,280.2h10M811.2,313.8h10M819.8,265.3V297.5M814.8,265.3h10M814.8,297.5h10M825.8,286.0V312.8M820.8,286.0h10M820.8,312.8h10M829.4,301.6V330.6M824.4,301.6h10M824.4,330.6h10M834.2,265.3V295.1M829.2,265.3h10M829.2,295.1h10M839.0,248.1V276.5M834.0,248.1h10M834.0,276.5h10M843.0,241.4V268.6M838.0,241.4h10M838.0,268.6h10M848.5,221.4V249.6M843.5,221.4h10M843.5,249.6h10M853.3,233.4V264.8M848.3,233.4h10M848.3,264.8h10M856.5,215.1V240.9M851.5,215.1h10M851.5,240.9h10M860.3,200.7V230.7M855.3,200.7h10M855.3,230.7h10M864.0,189.1V218.3M859.0,189.1h10M859.0,218.3h10M869.0,182.1V207.9M864.0,182.1h10M864.0,207.9h10M874.7,166.9V195.1M869.7,166.9h10M869.7,195.1h10M878.3,151.4V182.0M873.3,151.4h10M873.3,182.0h10M883.0,147.1V176.7M878.0,147.1h10M878.0,176.7h10M887.8,153.6V179.8M882.8,153.6h10M882.8,179.8h10M891.4,133.2V166.6M886.4,133.2h10M886.4,166.6h10M896.2,126.7V158.7M891.2,126.7h10M891.2,158.7h10M899.8,136.8V170.2M894.8,136.8h10M894.8,170.2h10M904.0,167.8V194.2M899.0,167.8h10M899.0,194.2h10M908.2,174.3V202.1M903.2,174.3h10M903.2,202.1h10M913.0,159.6V185.6M908.0,159.6h10M908.0,185.6h10M916.6,181.9V213.7M911.6,181.9h10M911.6,213.7h10M921.3,197.0V224.8M916.3,197.0h10M916.3,224.8h10M925.0,207.2V233.8M920.0,207.2h10M920.0,233.8h10M929.6,216.8V245.8M924.6,216.8h10M924.6,245.8h10M933.1,231.8V264.6M928.1,231.8h10M928.1,264.6h10M937.8,234.5V266.7M932.8,234.5h10M932.8,266.7h10M941.4,196.1V223.7M936.4,196.1h10M936.4,223.7h10M945.0,185.7V212.5M940.0,185.7h10M940.0,212.5h10M949.8,206.6V239.6M944.8,206.6h10M944.8,239.6h10M959.4,231.9V262.1M954.4,231.9h10M954.4,262.1h10M961.8,276.8V308.0M956.8,276.8h10M956.8,308.0h10M966.6,215.8V242.2M961.6,215.8h10M961.6,242.2h10M973.7,247.1V273.1M968.7,247.1h10M968.7,273.1h10M979.7,260.1V291.3M974.7,260.1h10M974.7,291.3h10M983.3,254.0V283.0M978.3,254.0h10M978.3,283.0h10" stroke="#f81a0a" stroke-width="1.5" fill="none"/>
<g fill="#f81a0a"><circle cx="613.4" cy="301.3" r="4.8"/><circle cx="619.0" cy="296.0" r="4.8"/><circle cx="624.0" cy="297.8" r="4.8"/><circle cx="628.5" cy="292.0" r="4.8"/><circle cx="633.7" cy="279.8" r="4.8"/><circle cx="638.5" cy="302.5" r="4.8"/><circle cx="642.8" cy="315.7" r="4.8"/><circle cx="647.6" cy="282.2" r="4.8"/><circle cx="650.5" cy="261.9" r="4.8"/><circle cx="656.4" cy="246.3" r="4.8"/><circle cx="661.2" cy="234.4" r="4.8"/><circle cx="665.5" cy="238.0" r="4.8"/><circle cx="669.6" cy="250.0" r="4.8"/><circle cx="672.0" cy="250.0" r="4.8"/><circle cx="674.7" cy="214.5" r="4.8"/><circle cx="678.3" cy="202.5" r="4.8"/><circle cx="683.5" cy="196.0" r="4.8"/><circle cx="689.0" cy="184.6" r="4.8"/><circle cx="696.2" cy="170.2" r="4.8"/><circle cx="700.0" cy="178.0" r="4.8"/><circle cx="704.6" cy="165.5" r="4.8"/><circle cx="708.2" cy="149.9" r="4.8"/><circle cx="713.0" cy="154.7" r="4.8"/><circle cx="717.8" cy="188.2" r="4.8"/><circle cx="720.0" cy="183.4" r="4.8"/><circle cx="725.0" cy="170.2" r="4.8"/><circle cx="728.4" cy="193.9" r="4.8"/><circle cx="734.4" cy="214.3" r="4.8"/><circle cx="738.0" cy="219.0" r="4.8"/><circle cx="742.7" cy="231.0" r="4.8"/><circle cx="747.5" cy="246.6" r="4.8"/><circle cx="751.1" cy="246.6" r="4.8"/><circle cx="755.9" cy="213.0" r="4.8"/><circle cx="758.3" cy="192.7" r="4.8"/><circle cx="763.0" cy="215.5" r="4.8"/><circle cx="767.0" cy="228.0" r="4.8"/><circle cx="770.2" cy="244.2" r="4.8"/><circle cx="772.6" cy="246.6" r="4.8"/><circle cx="775.5" cy="294.6" r="4.8"/><circle cx="779.8" cy="231.0" r="4.8"/><circle cx="783.4" cy="260.9" r="4.8"/><circle cx="788.2" cy="260.9" r="4.8"/><circle cx="791.0" cy="273.0" r="4.8"/><circle cx="795.4" cy="271.7" r="4.8"/><circle cx="800.7" cy="298.2" r="4.8"/><circle cx="804.0" cy="290.0" r="4.8"/><circle cx="808.0" cy="283.2" r="4.8"/><circle cx="812.0" cy="292.0" r="4.8"/><circle cx="816.2" cy="297.0" r="4.8"/><circle cx="819.8" cy="281.4" r="4.8"/><circle cx="825.8" cy="299.4" r="4.8"/><circle cx="829.4" cy="316.1" r="4.8"/><circle cx="834.2" cy="280.2" r="4.8"/><circle cx="839.0" cy="262.3" r="4.8"/><circle cx="843.0" cy="255.0" r="4.8"/><circle cx="848.5" cy="235.5" r="4.8"/><circle cx="853.3" cy="249.1" r="4.8"/><circle cx="856.5" cy="228.0" r="4.8"/><circle cx="860.3" cy="215.7" r="4.8"/><circle cx="864.0" cy="203.7" r="4.8"/><circle cx="869.0" cy="195.0" r="4.8"/><circle cx="874.7" cy="181.0" r="4.8"/><circle cx="878.3" cy="166.7" r="4.8"/><circle cx="883.0" cy="161.9" r="4.8"/><circle cx="887.8" cy="166.7" r="4.8"/><circle cx="891.4" cy="149.9" r="4.8"/><circle cx="896.2" cy="142.7" r="4.8"/><circle cx="899.8" cy="153.5" r="4.8"/><circle cx="904.0" cy="181.0" r="4.8"/><circle cx="908.2" cy="188.2" r="4.8"/><circle cx="913.0" cy="172.6" r="4.8"/><circle cx="916.6" cy="197.8" r="4.8"/><circle cx="921.3" cy="210.9" r="4.8"/><circle cx="925.0" cy="220.5" r="4.8"/><circle cx="929.6" cy="231.3" r="4.8"/><circle cx="933.1" cy="248.2" r="4.8"/><circle cx="937.8" cy="250.6" r="4.8"/><circle cx="941.4" cy="209.9" r="4.8"/><circle cx="945.0" cy="199.1" r="4.8"/><circle cx="949.8" cy="223.1" r="4.8"/><circle cx="959.4" cy="247.0" r="4.8"/><circle cx="961.8" cy="292.4" r="4.8"/><circle cx="966.6" cy="229.0" r="4.8"/><circle cx="973.7" cy="260.1" r="4.8"/><circle cx="979.7" cy="275.7" r="4.8"/><circle cx="983.3" cy="268.5" r="4.8"/></g>
<path d="M614.00,291.73L616.07,292.36L618.14,292.72L620.22,292.79L622.29,292.58L624.36,292.08L626.43,291.30L628.51,290.24L630.58,288.91L632.65,287.32L634.72,285.47L636.79,283.36L638.87,281.02L640.94,278.45L643.01,275.67L645.08,272.68L647.16,269.51L649.23,266.16L651.30,262.66L653.37,259.02L655.44,255.26L657.52,251.40L659.59,247.46L661.66,243.45L663.73,239.40L665.81,235.32L667.88,231.24L669.95,227.17L672.02,223.14L674.09,219.16L676.17,215.25L678.24,211.44L680.31,207.74L682.38,204.17L684.46,200.75L686.53,197.48L688.60,194.40L690.67,191.52L692.74,188.84L694.82,186.38L696.89,184.16L698.96,182.18L701.03,180.45L703.11,178.99L705.18,177.79L707.25,176.87L709.32,176.24L711.39,175.88L713.47,175.81L715.54,176.02L717.61,176.52L719.68,177.30L721.76,178.36L723.83,179.69L725.90,181.28L727.97,183.13L730.04,185.24L732.12,187.58L734.19,190.15L736.26,192.93L738.33,195.92L740.41,199.09L742.48,202.44L744.55,205.94L746.62,209.58L748.69,213.34L750.77,217.20L752.84,221.14L754.91,225.15L756.98,229.20L759.06,233.28L761.13,237.36L763.20,241.43L765.27,245.46L767.34,249.44L769.42,253.35L771.49,257.16L773.56,260.86L775.63,264.43L777.71,267.85L779.78,271.12L781.85,274.20L783.92,277.08L785.99,279.76L788.07,282.22L790.14,284.44L792.21,286.42L794.28,288.15L796.36,289.61L798.43,290.81L800.50,291.73L802.57,292.36L804.64,292.72L806.72,292.79L808.79,292.58L810.86,292.08L812.93,291.30L815.01,290.24L817.08,288.91L819.15,287.32L821.22,285.47L823.29,283.36L825.37,281.02L827.44,278.45L829.51,275.67L831.58,272.68L833.66,269.51L835.73,266.16L837.80,262.66L839.87,259.02L841.94,255.26L844.02,251.40L846.09,247.46L848.16,243.45L850.23,239.40L852.31,235.32L854.38,231.24L856.45,227.17L858.52,223.14L860.59,219.16L862.67,215.25L864.74,211.44L866.81,207.74L868.88,204.17L870.96,200.75L873.03,197.48L875.10,194.40L877.17,191.52L879.24,188.84L881.32,186.38L883.39,184.16L885.46,182.18L887.53,180.45L889.61,178.99L891.68,177.79L893.75,176.87L895.82,176.24L897.89,175.88L899.97,175.81L902.04,176.02L904.11,176.52L906.18,177.30L908.26,178.36L910.33,179.69L912.40,181.28L914.47,183.13L916.54,185.24L918.62,187.58L920.69,190.15L922.76,192.93L924.83,195.92L926.91,199.09L928.98,202.44L931.05,205.94L933.12,209.58L935.19,213.34L937.27,217.20L939.34,221.14L941.41,225.15L943.48,229.20L945.56,233.28L947.63,237.36L949.70,241.43L951.77,245.46L953.84,249.44L955.92,253.35L957.99,257.16L960.06,260.86L962.13,264.43L964.21,267.85L966.28,271.12L968.35,274.20L970.42,277.08L972.49,279.76L974.57,282.22L976.64,284.44L978.71,286.42L980.78,288.15L982.86,289.61L984.93,290.81L987.00,291.73" stroke="#ecf538" stroke-width="8.2" fill="none"/>
<path d="M614.00,401.8v19M629.54,401.8v10M645.08,401.8v10M660.62,401.8v10M676.17,401.8v19M691.71,401.8v10M707.25,401.8v10M722.79,401.8v10M738.33,401.8v19M753.88,401.8v10M769.42,401.8v10M784.96,401.8v10M800.50,401.8v19M816.04,401.8v10M831.58,401.8v10M847.12,401.8v10M862.67,401.8v19M878.21,401.8v10M893.75,401.8v10M909.29,401.8v10M924.83,401.8v19M940.38,401.8v10M955.92,401.8v10M971.46,401.8v10M987.00,401.8v19" stroke="#000" stroke-width="1.7" fill="none"/>
<text stroke="#000" stroke-width="0.35" x="614.00" y="454.6" font-size="26" text-anchor="middle">0</text>
<text stroke="#000" stroke-width="0.35" x="676.17" y="454.6" font-size="26" text-anchor="middle">60</text>
<text stroke="#000" stroke-width="0.35" x="738.33" y="454.6" font-size="26" text-anchor="middle">120</text>
<text stroke="#000" stroke-width="0.35" x="800.50" y="454.6" font-size="26" text-anchor="middle">180</text>
<text stroke="#000" stroke-width="0.35" x="862.67" y="454.6" font-size="26" text-anchor="middle">240</text>
<text stroke="#000" stroke-width="0.35" x="924.83" y="454.6" font-size="26" text-anchor="middle">300</text>
<text stroke="#000" stroke-width="0.35" x="987.00" y="454.6" font-size="26" text-anchor="middle">360</text>
<path d="M614.0,401.80h-19M614.0,389.58h-11M614.0,377.36h-11M614.0,365.14h-11M614.0,352.92h-11M614.0,340.70h-15M614.0,328.48h-11M614.0,316.26h-11M614.0,304.04h-11M614.0,291.82h-11M614.0,279.60h-19M614.0,267.38h-11M614.0,255.16h-11M614.0,242.94h-11M614.0,230.72h-11M614.0,218.50h-15M614.0,206.28h-11M614.0,194.06h-11M614.0,181.84h-11M614.0,169.62h-11M614.0,157.40h-19M614.0,145.18h-11M614.0,132.96h-11M614.0,120.74h-11M614.0,108.52h-11M614.0,96.30h-15M614.0,84.08h-11M614.0,71.86h-11M614.0,59.64h-11M614.0,47.42h-11M614.0,35.20h-19" stroke="#000" stroke-width="1.7"/>
<text stroke="#000" stroke-width="0.35" x="589" y="411.10" font-size="26.3" text-anchor="end">0.8</text>
<text stroke="#000" stroke-width="0.35" x="589" y="288.90" font-size="26.3" text-anchor="end">0.9</text>
<text stroke="#000" stroke-width="0.35" x="589" y="166.70" font-size="26.3" text-anchor="end">1.0</text>
<text stroke="#000" stroke-width="0.35" x="589" y="44.50" font-size="26.3" text-anchor="end">1.1</text>
<text stroke="#000" stroke-width="0.35" x="707.2" y="380.3" font-size="34" text-anchor="middle">K</text>
<text stroke="#000" stroke-width="0.35" x="800.5" y="380.3" font-size="34" text-anchor="middle">M</text>
<text stroke="#000" stroke-width="0.35" x="893.8" y="380.3" font-size="34" text-anchor="middle">K</text>
<circle cx="729.1" cy="57.4" r="8" fill="#f81a0a"/>
<text stroke="#000" stroke-width="0.35" x="746.5" y="65.4" font-size="24.8">-1.6 mT</text>
<line x1="860" y1="57.8" x2="906.8" y2="57.8" stroke="#ecf538" stroke-width="7.6"/>
<text stroke="#000" stroke-width="0.35" x="919" y="66.5" font-size="24.8">Fit</text>
<text stroke="#000" stroke-width="0.35" x="678" y="492.8" font-size="29.3">Azimuthal angle θ (°)</text>
<text stroke="#000" stroke-width="0.35" transform="translate(534.7,259.5) rotate(-90)" font-size="28">k<tspan font-size="19" dy="12.5">m</tspan><tspan dy="-22" font-size="14.5">2</tspan><tspan dy="9.5" font-size="28">/k</tspan><tspan font-size="14.5" dy="-10">2</tspan></text>
<text stroke="#000" stroke-width="0.35" x="515" y="36.6" font-size="45.5" font-weight="bold">b</text>
<line x1="1234.25" y1="35.5" x2="1234.25" y2="402.5" stroke="#5a5a5a" stroke-width="1.1" stroke-dasharray="6 6.55" stroke-dashoffset="0"/>
<line x1="1420.75" y1="35.5" x2="1420.75" y2="402.5" stroke="#5a5a5a" stroke-width="1.1" stroke-dasharray="6 6.55" stroke-dashoffset="0"/>
<line x1="1236.2" y1="35.5" x2="1236.2" y2="402.5" stroke="#1c0ae8" stroke-width="1.4" stroke-dasharray="1.4 1.4"/>
<line x1="1241.6" y1="35.5" x2="1241.6" y2="402.5" stroke="#d0402e" stroke-width="1.4" stroke-dasharray="1.4 1.4"/>
<circle cx="1255.5" cy="361.9" r="6.4" fill="#f81a0a"/>
<text stroke="#000" stroke-width="0.35" x="1269" y="368.2" font-size="19.3">-1.6 mT</text>
<line x1="1348.5" y1="361.9" x2="1385.6" y2="361.9" stroke="#ecf538" stroke-width="7.8"/>
<text stroke="#000" stroke-width="0.35" x="1393.8" y="368.2" font-size="19.3">Fit</text>
<circle cx="1255.5" cy="383.8" r="6.4" fill="#1c0ae8"/>
<text stroke="#000" stroke-width="0.35" x="1269.7" y="389.4" font-size="19.3">1.6 mT</text>
<line x1="1349" y1="384" x2="1385.9" y2="384" stroke="#72f2f8" stroke-width="7.9"/>
<text stroke="#000" stroke-width="0.35" x="1393.8" y="389.4" font-size="19.3">FIt</text>
<rect x="1141.0" y="35.5" width="373.0" height="367.0" fill="none" stroke="#000" stroke-width="1.7"/>
<path d="M1141.0,112.6V153.2M1136.2,112.6h9.5M1136.2,153.2h9.5M1145.8,104.2V151.8M1141.0,104.2h9.5M1141.0,151.8h9.5M1149.4,87.6V132.6M1144.7,87.6h9.5M1144.7,132.6h9.5M1156.5,98.8V145.2M1151.8,98.8h9.5M1151.8,145.2h9.5M1161.3,86.3V126.9M1156.5,86.3h9.5M1156.5,126.9h9.5M1164.9,68.8V115.6M1160.2,68.8h9.5M1160.2,115.6h9.5M1170.9,76.7V117.3M1166.2,76.7h9.5M1166.2,117.3h9.5M1178.0,67.5V114.5M1173.2,67.5h9.5M1173.2,114.5h9.5M1182.8,76.4V120.0M1178.0,76.4h9.5M1178.0,120.0h9.5M1190.0,104.3V147.1M1185.2,104.3h9.5M1185.2,147.1h9.5M1196.0,98.7V143.1M1191.2,98.7h9.5M1191.2,143.1h9.5M1203.2,87.6V135.0M1198.5,87.6h9.5M1198.5,135.0h9.5M1211.6,95.0V137.2M1206.8,95.0h9.5M1206.8,137.2h9.5M1217.5,83.7V124.7M1212.8,83.7h9.5M1212.8,124.7h9.5M1224.7,88.0V132.2M1220.0,88.0h9.5M1220.0,132.2h9.5M1230.4,91.5V133.5M1225.7,91.5h9.5M1225.7,133.5h9.5M1233.5,43.1V83.9M1228.8,43.1h9.5M1228.8,83.9h9.5M1240.0,50.1V91.3M1235.2,50.1h9.5M1235.2,91.3h9.5M1244.7,57.6V98.0M1240.0,57.6h9.5M1240.0,98.0h9.5M1249.5,61.8V103.4M1244.8,61.8h9.5M1244.8,103.4h9.5M1254.3,65.0V107.4M1249.5,65.0h9.5M1249.5,107.4h9.5M1259.1,68.6V111.0M1254.3,68.6h9.5M1254.3,111.0h9.5M1261.5,83.6V129.6M1256.8,83.6h9.5M1256.8,129.6h9.5M1268.7,97.3V139.7M1264.0,97.3h9.5M1264.0,139.7h9.5M1275.8,100.1V144.1M1271.0,100.1h9.5M1271.0,144.1h9.5M1279.4,103.8V145.2M1274.7,103.8h9.5M1274.7,145.2h9.5M1285.4,67.2V110.0M1280.7,67.2h9.5M1280.7,110.0h9.5M1290.2,75.7V115.9M1285.5,75.7h9.5M1285.5,115.9h9.5M1295.0,83.2V125.2M1290.2,83.2h9.5M1290.2,125.2h9.5M1302.2,118.8V159.0M1297.5,118.8h9.5M1297.5,159.0h9.5M1310.5,112.4V158.2M1305.8,112.4h9.5M1305.8,158.2h9.5M1315.3,89.1V133.5M1310.5,89.1h9.5M1310.5,133.5h9.5M1320.1,119.2V160.8M1315.3,119.2h9.5M1315.3,160.8h9.5M1324.9,96.6V140.4M1320.2,96.6h9.5M1320.2,140.4h9.5M1329.6,106.8V154.2M1324.8,106.8h9.5M1324.8,154.2h9.5M1335.6,89.7V130.5M1330.8,89.7h9.5M1330.8,130.5h9.5M1343.9,86.8V133.4M1339.2,86.8h9.5M1339.2,133.4h9.5M1343.9,104.0V147.4M1339.2,104.0h9.5M1339.2,147.4h9.5M1351.1,70.2V114.2M1346.3,70.2h9.5M1346.3,114.2h9.5M1355.9,76.1V122.7M1351.2,76.1h9.5M1351.2,122.7h9.5M1363.1,73.0V116.2M1358.3,73.0h9.5M1358.3,116.2h9.5M1369.0,78.6V122.6M1364.2,78.6h9.5M1364.2,122.6h9.5M1376.2,107.7V153.3M1371.5,107.7h9.5M1371.5,153.3h9.5M1382.2,99.4V147.2M1377.5,99.4h9.5M1377.5,147.2h9.5M1389.4,97.1V139.9M1384.7,97.1h9.5M1384.7,139.9h9.5M1399.0,96.4V143.0M1394.2,96.4h9.5M1394.2,143.0h9.5M1406.1,65.8V111.4M1401.3,65.8h9.5M1401.3,111.4h9.5M1414.5,85.3V130.3M1409.8,85.3h9.5M1409.8,130.3h9.5M1418.0,46.7V89.9M1413.2,46.7h9.5M1413.2,89.9h9.5M1422.0,48.1V90.9M1417.2,48.1h9.5M1417.2,90.9h9.5M1426.7,54.1V94.5M1422.0,54.1h9.5M1422.0,94.5h9.5M1431.5,58.5V99.5M1426.8,58.5h9.5M1426.8,99.5h9.5M1436.3,62.3V102.9M1431.5,62.3h9.5M1431.5,102.9h9.5M1441.1,62.0V108.0M1436.3,62.0h9.5M1436.3,108.0h9.5M1445.9,66.4V108.4M1441.2,66.4h9.5M1441.2,108.4h9.5M1455.5,95.4V136.8M1450.8,95.4h9.5M1450.8,136.8h9.5M1463.8,99.4V140.0M1459.0,99.4h9.5M1459.0,140.0h9.5M1472.2,62.8V109.6M1467.5,62.8h9.5M1467.5,109.6h9.5M1477.0,73.5V120.5M1472.2,73.5h9.5M1472.2,120.5h9.5M1481.8,79.1V124.5M1477.0,79.1h9.5M1477.0,124.5h9.5M1487.8,87.8V130.0M1483.0,87.8h9.5M1483.0,130.0h9.5M1489.0,114.3V156.3M1484.2,114.3h9.5M1484.2,156.3h9.5M1494.9,100.9V143.3M1490.2,100.9h9.5M1490.2,143.3h9.5M1499.7,118.2V161.8M1495.0,118.2h9.5M1495.0,161.8h9.5M1502.1,94.3V135.5M1497.3,94.3h9.5M1497.3,135.5h9.5M1506.9,120.6V164.2M1502.2,120.6h9.5M1502.2,164.2h9.5M1511.7,97.4V139.6M1507.0,97.4h9.5M1507.0,139.6h9.5" stroke="#1c0ae8" stroke-width="1.7" fill="none"/>
<g fill="#1c0ae8"><circle cx="1141.0" cy="132.9" r="6.4"/><circle cx="1145.8" cy="128.0" r="6.4"/><circle cx="1149.4" cy="110.1" r="6.4"/><circle cx="1156.5" cy="122.0" r="6.4"/><circle cx="1161.3" cy="106.6" r="6.4"/><circle cx="1164.9" cy="92.2" r="6.4"/><circle cx="1170.9" cy="97.0" r="6.4"/><circle cx="1178.0" cy="91.0" r="6.4"/><circle cx="1182.8" cy="98.2" r="6.4"/><circle cx="1190.0" cy="125.7" r="6.4"/><circle cx="1196.0" cy="120.9" r="6.4"/><circle cx="1203.2" cy="111.3" r="6.4"/><circle cx="1211.6" cy="116.1" r="6.4"/><circle cx="1217.5" cy="104.2" r="6.4"/><circle cx="1224.7" cy="110.1" r="6.4"/><circle cx="1230.4" cy="112.5" r="6.4"/><circle cx="1233.5" cy="63.5" r="6.4"/><circle cx="1240.0" cy="70.7" r="6.4"/><circle cx="1244.7" cy="77.8" r="6.4"/><circle cx="1249.5" cy="82.6" r="6.4"/><circle cx="1254.3" cy="86.2" r="6.4"/><circle cx="1259.1" cy="89.8" r="6.4"/><circle cx="1261.5" cy="106.6" r="6.4"/><circle cx="1268.7" cy="118.5" r="6.4"/><circle cx="1275.8" cy="122.1" r="6.4"/><circle cx="1279.4" cy="124.5" r="6.4"/><circle cx="1285.4" cy="88.6" r="6.4"/><circle cx="1290.2" cy="95.8" r="6.4"/><circle cx="1295.0" cy="104.2" r="6.4"/><circle cx="1302.2" cy="138.9" r="6.4"/><circle cx="1310.5" cy="135.3" r="6.4"/><circle cx="1315.3" cy="111.3" r="6.4"/><circle cx="1320.1" cy="140.0" r="6.4"/><circle cx="1324.9" cy="118.5" r="6.4"/><circle cx="1329.6" cy="130.5" r="6.4"/><circle cx="1335.6" cy="110.1" r="6.4"/><circle cx="1343.9" cy="110.1" r="6.4"/><circle cx="1343.9" cy="125.7" r="6.4"/><circle cx="1351.1" cy="92.2" r="6.4"/><circle cx="1355.9" cy="99.4" r="6.4"/><circle cx="1363.1" cy="94.6" r="6.4"/><circle cx="1369.0" cy="100.6" r="6.4"/><circle cx="1376.2" cy="130.5" r="6.4"/><circle cx="1382.2" cy="123.3" r="6.4"/><circle cx="1389.4" cy="118.5" r="6.4"/><circle cx="1399.0" cy="119.7" r="6.4"/><circle cx="1406.1" cy="88.6" r="6.4"/><circle cx="1414.5" cy="107.8" r="6.4"/><circle cx="1418.0" cy="68.3" r="6.4"/><circle cx="1422.0" cy="69.5" r="6.4"/><circle cx="1426.7" cy="74.3" r="6.4"/><circle cx="1431.5" cy="79.0" r="6.4"/><circle cx="1436.3" cy="82.6" r="6.4"/><circle cx="1441.1" cy="85.0" r="6.4"/><circle cx="1445.9" cy="87.4" r="6.4"/><circle cx="1455.5" cy="116.1" r="6.4"/><circle cx="1463.8" cy="119.7" r="6.4"/><circle cx="1472.2" cy="86.2" r="6.4"/><circle cx="1477.0" cy="97.0" r="6.4"/><circle cx="1481.8" cy="101.8" r="6.4"/><circle cx="1487.8" cy="108.9" r="6.4"/><circle cx="1489.0" cy="135.3" r="6.4"/><circle cx="1494.9" cy="122.1" r="6.4"/><circle cx="1499.7" cy="140.0" r="6.4"/><circle cx="1502.1" cy="114.9" r="6.4"/><circle cx="1506.9" cy="142.4" r="6.4"/><circle cx="1511.7" cy="118.5" r="6.4"/></g>
<path d="M1141.0,307.8V353.4M1136.2,307.8h9.5M1136.2,353.4h9.5M1147.0,305.3V351.1M1142.2,305.3h9.5M1142.2,351.1h9.5M1154.0,308.2V350.6M1149.2,308.2h9.5M1149.2,350.6h9.5M1161.3,292.6V332.6M1156.5,292.6h9.5M1156.5,332.6h9.5M1166.1,307.7V353.5M1161.3,307.7h9.5M1161.3,353.5h9.5M1169.7,322.3V362.7M1165.0,322.3h9.5M1165.0,362.7h9.5M1175.7,295.8V336.6M1171.0,295.8h9.5M1171.0,336.6h9.5M1179.3,280.5V318.5M1174.5,280.5h9.5M1174.5,318.5h9.5M1186.4,263.4V304.4M1181.7,263.4h9.5M1181.7,304.4h9.5M1192.4,258.2V300.0M1187.7,258.2h9.5M1187.7,300.0h9.5M1198.4,268.9V310.9M1193.7,268.9h9.5M1193.7,310.9h9.5M1201.0,241.7V281.3M1196.2,241.7h9.5M1196.2,281.3h9.5M1206.3,231.9V273.9M1201.5,231.9h9.5M1201.5,273.9h9.5M1214.7,220.7V258.7M1210.0,220.7h9.5M1210.0,258.7h9.5M1220.7,210.0V250.2M1216.0,210.0h9.5M1216.0,250.2h9.5M1227.8,207.2V246.0M1223.0,207.2h9.5M1223.0,246.0h9.5M1235.0,194.0V235.2M1230.2,194.0h9.5M1230.2,235.2h9.5M1241.0,197.8V236.2M1236.2,197.8h9.5M1236.2,236.2h9.5M1243.4,223.0V261.2M1238.7,223.0h9.5M1238.7,261.2h9.5M1249.4,224.3V264.7M1244.7,224.3h9.5M1244.7,264.7h9.5M1252.5,208.1V247.9M1247.8,208.1h9.5M1247.8,247.9h9.5M1257.2,227.4V270.0M1252.5,227.4h9.5M1252.5,270.0h9.5M1260.8,242.0V284.2M1256.0,242.0h9.5M1256.0,284.2h9.5M1266.7,245.8V289.8M1262.0,245.8h9.5M1262.0,289.8h9.5M1270.3,254.6V297.8M1265.5,254.6h9.5M1265.5,297.8h9.5M1273.9,266.3V310.1M1269.2,266.3h9.5M1269.2,310.1h9.5M1279.9,265.7V310.7M1275.2,265.7h9.5M1275.2,310.7h9.5M1285.9,224.5V265.7M1281.2,224.5h9.5M1281.2,265.7h9.5M1291.9,242.8V283.4M1287.2,242.8h9.5M1287.2,283.4h9.5M1300.2,265.3V311.1M1295.5,265.3h9.5M1295.5,311.1h9.5M1303.8,305.7V344.9M1299.0,305.7h9.5M1299.0,344.9h9.5M1307.4,253.1V296.9M1302.7,253.1h9.5M1302.7,296.9h9.5M1310.0,252.8V296.0M1305.2,252.8h9.5M1305.2,296.0h9.5M1313.4,279.8V318.2M1308.7,279.8h9.5M1308.7,318.2h9.5M1317.0,277.8V322.4M1312.2,277.8h9.5M1312.2,322.4h9.5M1323.2,284.1V329.3M1318.5,284.1h9.5M1318.5,329.3h9.5M1328.0,305.5V348.5M1323.2,305.5h9.5M1323.2,348.5h9.5M1334.9,296.2V340.0M1330.2,296.2h9.5M1330.2,340.0h9.5M1340.0,293.8V338.2M1335.2,293.8h9.5M1335.2,338.2h9.5M1345.9,293.0V332.2M1341.2,293.0h9.5M1341.2,332.2h9.5M1351.9,307.1V349.3M1347.2,307.1h9.5M1347.2,349.3h9.5M1356.7,321.5V363.5M1352.0,321.5h9.5M1352.0,363.5h9.5M1362.6,291.5V336.1M1357.8,291.5h9.5M1357.8,336.1h9.5M1368.6,271.3V315.7M1363.8,271.3h9.5M1363.8,315.7h9.5M1374.6,255.7V300.3M1369.8,255.7h9.5M1369.8,300.3h9.5M1384.2,266.2V308.8M1379.5,266.2h9.5M1379.5,308.8h9.5M1388.0,238.6V283.8M1383.2,238.6h9.5M1383.2,283.8h9.5M1394.0,228.8V272.2M1389.2,228.8h9.5M1389.2,272.2h9.5M1402.3,213.1V256.7M1397.5,213.1h9.5M1397.5,256.7h9.5M1408.3,204.3V244.1M1403.5,204.3h9.5M1403.5,244.1h9.5M1414.3,206.3V244.5M1409.5,206.3h9.5M1409.5,244.5h9.5M1420.2,192.7V231.7M1415.5,192.7h9.5M1415.5,231.7h9.5M1422.6,187.0V227.8M1417.8,187.0h9.5M1417.8,227.8h9.5M1428.6,196.4V235.2M1423.8,196.4h9.5M1423.8,235.2h9.5M1434.0,220.1V264.7M1429.2,220.1h9.5M1429.2,264.7h9.5M1440.6,208.9V251.3M1435.8,208.9h9.5M1435.8,251.3h9.5M1441.7,229.6V272.6M1437.0,229.6h9.5M1437.0,272.6h9.5M1447.7,241.6V284.6M1443.0,241.6h9.5M1443.0,284.6h9.5M1452.5,247.3V290.7M1447.8,247.3h9.5M1447.8,290.7h9.5M1456.1,255.2V297.2M1451.3,255.2h9.5M1451.3,297.2h9.5M1460.9,269.2V307.2M1456.2,269.2h9.5M1456.2,307.2h9.5M1465.7,268.4V312.8M1461.0,268.4h9.5M1461.0,312.8h9.5M1469.3,235.1V279.1M1464.5,235.1h9.5M1464.5,279.1h9.5M1472.8,228.9V270.9M1468.0,228.9h9.5M1468.0,270.9h9.5M1477.6,246.7V288.9M1472.8,246.7h9.5M1472.8,288.9h9.5M1486.0,265.4V308.6M1481.2,265.4h9.5M1481.2,308.6h9.5M1489.6,303.6V342.2M1484.8,303.6h9.5M1484.8,342.2h9.5M1493.2,251.9V295.7M1488.5,251.9h9.5M1488.5,295.7h9.5M1501.6,277.8V317.8M1496.8,277.8h9.5M1496.8,317.8h9.5M1506.3,283.2V321.8M1501.5,283.2h9.5M1501.5,321.8h9.5M1511.1,283.6V323.8M1506.3,283.6h9.5M1506.3,323.8h9.5" stroke="#f81a0a" stroke-width="1.7" fill="none"/>
<g fill="#f81a0a"><circle cx="1141.0" cy="330.6" r="6.4"/><circle cx="1147.0" cy="328.2" r="6.4"/><circle cx="1154.0" cy="329.4" r="6.4"/><circle cx="1161.3" cy="312.6" r="6.4"/><circle cx="1166.1" cy="330.6" r="6.4"/><circle cx="1169.7" cy="342.5" r="6.4"/><circle cx="1175.7" cy="316.2" r="6.4"/><circle cx="1179.3" cy="299.5" r="6.4"/><circle cx="1186.4" cy="283.9" r="6.4"/><circle cx="1192.4" cy="279.1" r="6.4"/><circle cx="1198.4" cy="289.9" r="6.4"/><circle cx="1201.0" cy="261.5" r="6.4"/><circle cx="1206.3" cy="252.9" r="6.4"/><circle cx="1214.7" cy="239.7" r="6.4"/><circle cx="1220.7" cy="230.1" r="6.4"/><circle cx="1227.8" cy="226.6" r="6.4"/><circle cx="1235.0" cy="214.6" r="6.4"/><circle cx="1241.0" cy="217.0" r="6.4"/><circle cx="1243.4" cy="242.1" r="6.4"/><circle cx="1249.4" cy="244.5" r="6.4"/><circle cx="1252.5" cy="228.0" r="6.4"/><circle cx="1257.2" cy="248.7" r="6.4"/><circle cx="1260.8" cy="263.1" r="6.4"/><circle cx="1266.7" cy="267.8" r="6.4"/><circle cx="1270.3" cy="276.2" r="6.4"/><circle cx="1273.9" cy="288.2" r="6.4"/><circle cx="1279.9" cy="288.2" r="6.4"/><circle cx="1285.9" cy="245.1" r="6.4"/><circle cx="1291.9" cy="263.1" r="6.4"/><circle cx="1300.2" cy="288.2" r="6.4"/><circle cx="1303.8" cy="325.3" r="6.4"/><circle cx="1307.4" cy="275.0" r="6.4"/><circle cx="1310.0" cy="274.4" r="6.4"/><circle cx="1313.4" cy="299.0" r="6.4"/><circle cx="1317.0" cy="300.1" r="6.4"/><circle cx="1323.2" cy="306.7" r="6.4"/><circle cx="1328.0" cy="327.0" r="6.4"/><circle cx="1334.9" cy="318.1" r="6.4"/><circle cx="1340.0" cy="316.0" r="6.4"/><circle cx="1345.9" cy="312.6" r="6.4"/><circle cx="1351.9" cy="328.2" r="6.4"/><circle cx="1356.7" cy="342.5" r="6.4"/><circle cx="1362.6" cy="313.8" r="6.4"/><circle cx="1368.6" cy="293.5" r="6.4"/><circle cx="1374.6" cy="278.0" r="6.4"/><circle cx="1384.2" cy="287.5" r="6.4"/><circle cx="1388.0" cy="261.2" r="6.4"/><circle cx="1394.0" cy="250.5" r="6.4"/><circle cx="1402.3" cy="234.9" r="6.4"/><circle cx="1408.3" cy="224.2" r="6.4"/><circle cx="1414.3" cy="225.4" r="6.4"/><circle cx="1420.2" cy="212.2" r="6.4"/><circle cx="1422.6" cy="207.4" r="6.4"/><circle cx="1428.6" cy="215.8" r="6.4"/><circle cx="1434.0" cy="242.4" r="6.4"/><circle cx="1440.6" cy="230.1" r="6.4"/><circle cx="1441.7" cy="251.1" r="6.4"/><circle cx="1447.7" cy="263.1" r="6.4"/><circle cx="1452.5" cy="269.0" r="6.4"/><circle cx="1456.1" cy="276.2" r="6.4"/><circle cx="1460.9" cy="288.2" r="6.4"/><circle cx="1465.7" cy="290.6" r="6.4"/><circle cx="1469.3" cy="257.1" r="6.4"/><circle cx="1472.8" cy="249.9" r="6.4"/><circle cx="1477.6" cy="267.8" r="6.4"/><circle cx="1486.0" cy="287.0" r="6.4"/><circle cx="1489.6" cy="322.9" r="6.4"/><circle cx="1493.2" cy="273.8" r="6.4"/><circle cx="1501.6" cy="297.8" r="6.4"/><circle cx="1506.3" cy="302.5" r="6.4"/><circle cx="1511.1" cy="303.7" r="6.4"/></g>
<path d="M1141.00,119.70L1143.04,119.83L1145.09,119.89L1147.13,119.89L1149.17,119.83L1151.22,119.71L1153.26,119.52L1155.30,119.28L1157.35,118.97L1159.39,118.61L1161.43,118.19L1163.48,117.71L1165.52,117.19L1167.56,116.61L1169.61,115.98L1171.65,115.31L1173.70,114.60L1175.74,113.86L1177.78,113.07L1179.83,112.26L1181.87,111.42L1183.91,110.56L1185.96,109.68L1188.00,108.79L1190.04,107.88L1192.09,106.97L1194.13,106.06L1196.17,105.15L1198.22,104.25L1200.26,103.36L1202.30,102.48L1204.35,101.63L1206.39,100.80L1208.43,99.99L1210.48,99.22L1212.52,98.48L1214.56,97.78L1216.61,97.13L1218.65,96.52L1220.69,95.95L1222.74,95.44L1224.78,94.98L1226.82,94.58L1228.87,94.23L1230.91,93.94L1232.95,93.71L1235.00,93.55L1237.04,93.44L1239.09,93.40L1241.13,93.42L1243.17,93.51L1245.22,93.65L1247.26,93.86L1249.30,94.13L1251.35,94.45L1253.39,94.84L1255.43,95.28L1257.48,95.77L1259.52,96.32L1261.56,96.92L1263.61,97.56L1265.65,98.24L1267.69,98.97L1269.74,99.73L1271.78,100.52L1273.82,101.34L1275.87,102.19L1277.91,103.06L1279.95,103.95L1282.00,104.84L1284.04,105.75L1286.08,106.66L1288.13,107.57L1290.17,108.48L1292.21,109.38L1294.26,110.27L1296.30,111.13L1298.34,111.98L1300.39,112.80L1302.43,113.60L1304.48,114.35L1306.52,115.08L1308.56,115.76L1310.61,116.40L1312.65,117.00L1314.69,117.54L1316.74,118.03L1318.78,118.47L1320.82,118.86L1322.87,119.18L1324.91,119.45L1326.95,119.65L1329.00,119.80L1331.04,119.88L1333.08,119.90L1335.13,119.86L1337.17,119.75L1339.21,119.58L1341.26,119.35L1343.30,119.06L1345.34,118.71L1347.39,118.31L1349.43,117.85L1351.47,117.33L1353.52,116.77L1355.56,116.15L1357.60,115.50L1359.65,114.80L1361.69,114.06L1363.74,113.29L1365.78,112.48L1367.82,111.65L1369.87,110.79L1371.91,109.92L1373.95,109.03L1376.00,108.12L1378.04,107.22L1380.08,106.30L1382.13,105.39L1384.17,104.49L1386.21,103.59L1388.26,102.71L1390.30,101.85L1392.34,101.02L1394.39,100.20L1396.43,99.42L1398.47,98.68L1400.52,97.97L1402.56,97.30L1404.60,96.68L1406.65,96.10L1408.69,95.57L1410.73,95.10L1412.78,94.68L1414.82,94.32L1416.86,94.01L1418.91,93.77L1420.95,93.59L1422.99,93.46L1425.04,93.41L1427.08,93.41L1429.13,93.48L1431.17,93.61L1433.21,93.80L1435.26,94.05L1437.30,94.36L1439.34,94.73L1441.39,95.16L1443.43,95.64L1445.47,96.17L1447.52,96.75L1449.56,97.38L1451.60,98.05L1453.65,98.77L1455.69,99.52L1457.73,100.31L1459.78,101.12L1461.82,101.96L1463.86,102.83L1465.91,103.71L1467.95,104.60L1469.99,105.51L1472.04,106.42L1474.08,107.33L1476.12,108.24L1478.17,109.14L1480.21,110.03L1482.25,110.90L1484.30,111.76L1486.34,112.59L1488.39,113.39L1490.43,114.15L1492.47,114.89L1494.52,115.58L1496.56,116.23L1498.60,116.84L1500.65,117.40L1502.69,117.91L1504.73,118.36L1506.78,118.76L1508.82,119.10" stroke="#72f2f8" stroke-width="8" fill="none"/>
<path d="M1141.00,322.04L1143.04,322.57L1145.09,322.89L1147.13,323.00L1149.17,322.90L1151.22,322.60L1153.26,322.09L1155.30,321.38L1157.35,320.46L1159.39,319.35L1161.43,318.05L1163.48,316.56L1165.52,314.90L1167.56,313.06L1169.61,311.06L1171.65,308.91L1173.70,306.62L1175.74,304.20L1177.78,301.66L1179.83,299.01L1181.87,296.27L1183.91,293.45L1185.96,290.55L1188.00,287.60L1190.04,284.62L1192.09,281.60L1194.13,278.57L1196.17,275.55L1198.22,272.54L1200.26,269.56L1202.30,266.63L1204.35,263.75L1206.39,260.95L1208.43,258.23L1210.48,255.61L1212.52,253.10L1214.56,250.72L1216.61,248.47L1218.65,246.36L1220.69,244.41L1222.74,242.62L1224.78,241.00L1226.82,239.57L1228.87,238.32L1230.91,237.26L1232.95,236.40L1235.00,235.74L1237.04,235.29L1239.09,235.05L1241.13,235.01L1243.17,235.18L1245.22,235.56L1247.26,236.15L1249.30,236.94L1251.35,237.92L1253.39,239.10L1255.43,240.48L1257.48,242.03L1259.52,243.76L1261.56,245.65L1263.61,247.71L1265.65,249.91L1267.69,252.25L1269.74,254.71L1271.78,257.30L1273.82,259.98L1275.87,262.75L1277.91,265.61L1279.95,268.52L1282.00,271.49L1284.04,274.49L1286.08,277.51L1288.13,280.54L1290.17,283.56L1292.21,286.56L1294.26,289.52L1296.30,292.43L1298.34,295.28L1300.39,298.06L1302.43,300.74L1304.48,303.32L1306.52,305.79L1308.56,308.12L1310.61,310.32L1312.65,312.37L1314.69,314.27L1316.74,315.99L1318.78,317.55L1320.82,318.91L1322.87,320.09L1324.91,321.08L1326.95,321.86L1329.00,322.44L1331.04,322.82L1333.08,322.99L1335.13,322.95L1337.17,322.70L1339.21,322.25L1341.26,321.59L1343.30,320.73L1345.34,319.67L1347.39,318.42L1349.43,316.98L1351.47,315.36L1353.52,313.57L1355.56,311.61L1357.60,309.50L1359.65,307.25L1361.69,304.86L1363.74,302.35L1365.78,299.73L1367.82,297.01L1369.87,294.21L1371.91,291.33L1373.95,288.40L1376.00,285.42L1378.04,282.41L1380.08,279.38L1382.13,276.36L1384.17,273.34L1386.21,270.35L1388.26,267.41L1390.30,264.51L1392.34,261.69L1394.39,258.95L1396.43,256.30L1398.47,253.76L1400.52,251.34L1402.56,249.05L1404.60,246.91L1406.65,244.91L1408.69,243.08L1410.73,241.42L1412.78,239.93L1414.82,238.63L1416.86,237.52L1418.91,236.61L1420.95,235.90L1422.99,235.39L1425.04,235.09L1427.08,235.00L1429.13,235.12L1431.17,235.44L1433.21,235.97L1435.26,236.70L1437.30,237.64L1439.34,238.77L1441.39,240.09L1443.43,241.60L1445.47,243.28L1447.52,245.13L1449.56,247.14L1451.60,249.31L1453.65,251.61L1455.69,254.04L1457.73,256.59L1459.78,259.25L1461.82,262.00L1463.86,264.84L1465.91,267.74L1467.95,270.69L1469.99,273.68L1472.04,276.70L1474.08,279.73L1476.12,282.75L1478.17,285.76L1480.21,288.73L1482.25,291.66L1484.30,294.53L1486.34,297.32L1488.39,300.03L1490.43,302.64L1492.47,305.14L1494.52,307.51L1496.56,309.75L1498.60,311.84L1500.65,313.78L1502.69,315.55L1504.73,317.15L1506.78,318.57L1508.82,319.80" stroke="#ecf538" stroke-width="8" fill="none"/>
<path d="M1141.00,402.5v19M1156.54,402.5v10M1172.08,402.5v10M1187.62,402.5v10M1203.17,402.5v19M1218.71,402.5v10M1234.25,402.5v10M1249.79,402.5v10M1265.33,402.5v19M1280.88,402.5v10M1296.42,402.5v10M1311.96,402.5v10M1327.50,402.5v19M1343.04,402.5v10M1358.58,402.5v10M1374.12,402.5v10M1389.67,402.5v19M1405.21,402.5v10M1420.75,402.5v10M1436.29,402.5v10M1451.83,402.5v19M1467.38,402.5v10M1482.92,402.5v10M1498.46,402.5v10M1514.00,402.5v19" stroke="#000" stroke-width="1.7" fill="none"/>
<text stroke="#000" stroke-width="0.35" x="1141.00" y="454.6" font-size="26" text-anchor="middle">0</text>
<text stroke="#000" stroke-width="0.35" x="1203.17" y="454.6" font-size="26" text-anchor="middle">60</text>
<text stroke="#000" stroke-width="0.35" x="1265.33" y="454.6" font-size="26" text-anchor="middle">120</text>
<text stroke="#000" stroke-width="0.35" x="1327.50" y="454.6" font-size="26" text-anchor="middle">180</text>
<text stroke="#000" stroke-width="0.35" x="1389.67" y="454.6" font-size="26" text-anchor="middle">240</text>
<text stroke="#000" stroke-width="0.35" x="1451.83" y="454.6" font-size="26" text-anchor="middle">300</text>
<text stroke="#000" stroke-width="0.35" x="1514.00" y="454.6" font-size="26" text-anchor="middle">360</text>
<text stroke="#000" stroke-width="0.35" x="1112" y="411.50" font-size="25.5" text-anchor="end">0.90</text>
<text stroke="#000" stroke-width="0.35" x="1112" y="319.75" font-size="25.5" text-anchor="end">0.95</text>
<text stroke="#000" stroke-width="0.35" x="1112" y="228.00" font-size="25.5" text-anchor="end">1.00</text>
<text stroke="#000" stroke-width="0.35" x="1112" y="136.25" font-size="25.5" text-anchor="end">1.05</text>
<text stroke="#000" stroke-width="0.35" x="1112" y="44.50" font-size="25.5" text-anchor="end">1.10</text>
<path d="M1141.0,402.50h-19M1141.0,310.75h-19M1141.0,219.00h-19M1141.0,127.25h-19M1141.0,35.50h-19" stroke="#000" stroke-width="1.7"/>
<text stroke="#000" stroke-width="0.35" x="1233.8" y="29.8" font-size="34" text-anchor="middle">K</text>
<text stroke="#000" stroke-width="0.35" x="1418.8" y="29.8" font-size="34" text-anchor="middle">K</text>
<text stroke="#000" stroke-width="0.35" x="1205" y="492.8" font-size="29.3">Azimuthal angle θ (°)</text>
<text stroke="#000" stroke-width="0.35" transform="translate(1046.5,393) rotate(-90)" font-size="29">Norm. FS Diameter (a. u.)</text>
<text stroke="#000" stroke-width="0.35" x="1019.5" y="36.4" font-size="45.5" font-weight="bold">c</text>
</svg>
</body></html>
